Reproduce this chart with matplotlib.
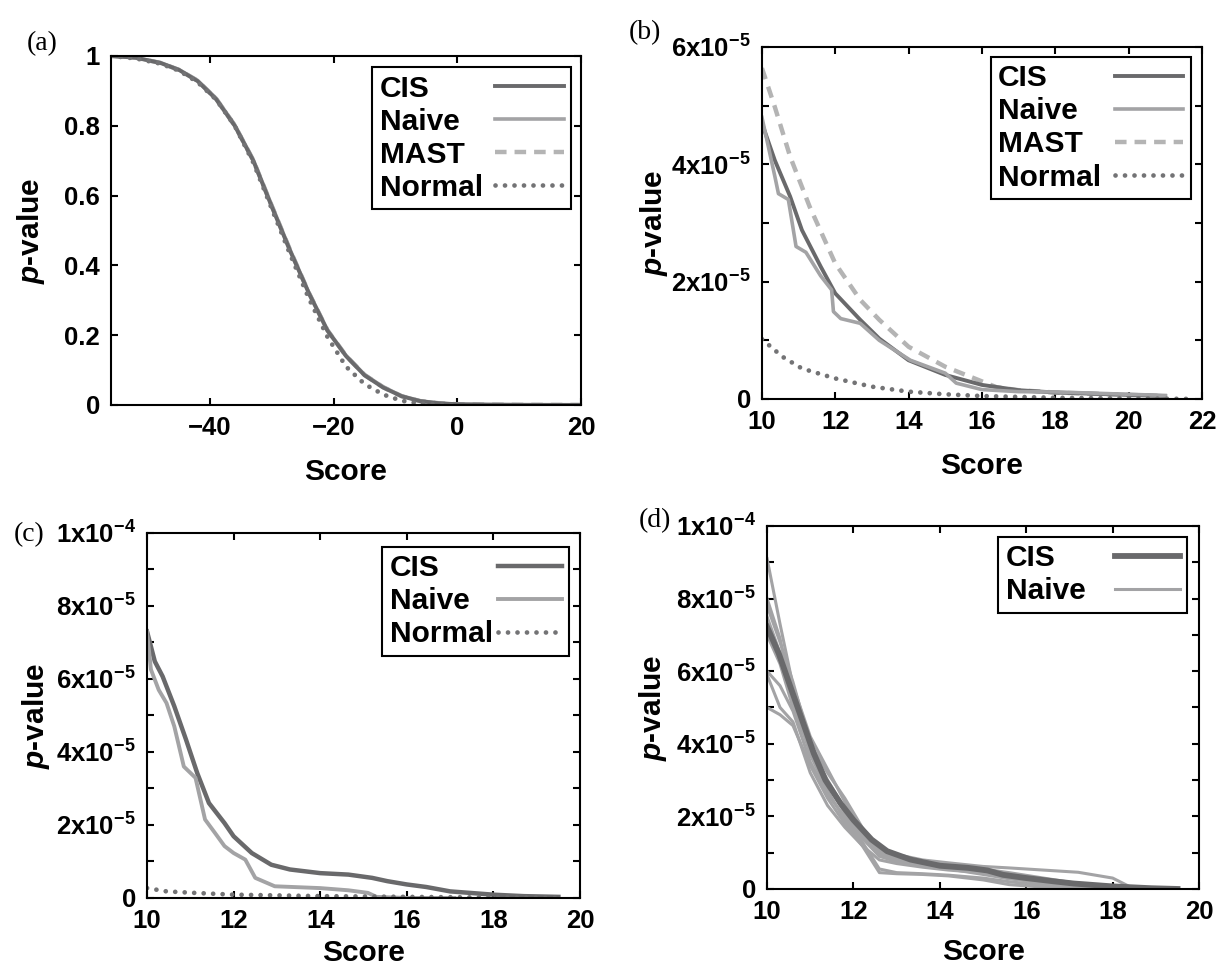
import numpy as np
import matplotlib
matplotlib.use('Agg')
import matplotlib.pyplot as plt

plt.rcParams['font.family'] = ['Liberation Sans', 'DejaVu Sans']
plt.rcParams['font.weight'] = 'bold'
plt.rcParams['axes.labelweight'] = 'bold'
plt.rcParams['mathtext.fontset'] = 'custom'
plt.rcParams['mathtext.rm'] = 'Liberation Sans:bold'
plt.rcParams['mathtext.it'] = 'Liberation Sans:italic:bold'
plt.rcParams['mathtext.bf'] = 'Liberation Sans:bold'

#Colours
c_cis, c_naive, c_mast, c_norm = '#69696b', '#a3a3a5', '#b4b4b4', '#737375'

#Panel (a): full range
score_a  = [-56, -52, -48, -45, -42, -39, -36, -33, -30, -27, -24, -21, -18,
            -15, -12, -9, -6, -3, 0, 5, 10, 15, 20]
cis_a    = [1.0, 0.995, 0.98, 0.96, 0.928, 0.876, 0.80, 0.70, 0.568, 0.44,
            0.32, 0.213, 0.14, 0.085, 0.05, 0.025, 0.011, 0.005, 0.002,
            0.001, 0.0005, 0.0003, 0.0002]
naive_a  = [1.0, 0.995, 0.981, 0.961, 0.93, 0.879, 0.803, 0.703, 0.572, 0.443,
            0.322, 0.215, 0.142, 0.087, 0.052, 0.026, 0.012, 0.005, 0.002,
            0.001, 0.0005, 0.0003, 0.0002]
mast_a   = [1.0, 0.995, 0.98, 0.96, 0.929, 0.877, 0.801, 0.701, 0.57, 0.442,
            0.321, 0.214, 0.141, 0.086, 0.051, 0.025, 0.011, 0.005, 0.002,
            0.001, 0.0005, 0.0003, 0.0002]
score_na = [-56, -52, -48, -45, -42, -39, -36, -33, -30, -27, -24, -21, -18,
            -15, -12, -9, -6, -3, 0]
normal_a = [1.0, 0.993, 0.978, 0.958, 0.925, 0.875, 0.80, 0.695, 0.562, 0.43,
            0.305, 0.195, 0.11, 0.06, 0.03, 0.012, 0.004, 0.001, 0.0003]

#Panel (b): tail, p-values in units of 1e-5
score_b  = [10, 10.35, 10.77, 11.09, 11.6, 12, 12.68, 13.2, 14, 15, 16, 17,
            18, 20, 21]
cis_b    = [4.7, 4.07, 3.45, 2.88, 2.26, 1.8, 1.35, 1.03, 0.66, 0.41, 0.24,
            0.15, 0.11, 0.07, 0.05]
score_nb = [10, 10.35, 10.45, 10.72, 10.93, 11.2, 11.4, 11.6, 11.9, 11.95,
            12.15, 12.68, 13.2, 14.05, 15, 15.3, 16, 17, 18, 20, 21]
naive_b  = [4.8, 3.8, 3.5, 3.4, 2.6, 2.5, 2.3, 2.1, 1.86, 1.49, 1.37, 1.29,
            1.0, 0.66, 0.44, 0.27, 0.16, 0.125, 0.12, 0.08, 0.06]
score_mb = [10, 10.35, 10.77, 11.3, 12, 12.68, 13.2, 14, 15, 16, 16.4, 17,
            18, 20, 21]
mast_b   = [5.64, 4.98, 4.13, 3.28, 2.31, 1.69, 1.35, 0.89, 0.55, 0.30, 0.2,
            0.15, 0.11, 0.07, 0.05]
score_pb = [10, 10.56, 11.09, 12, 13, 14, 15, 16, 18, 20, 21.8]
normal_b = [1.02, 0.72, 0.52, 0.35, 0.21, 0.125, 0.08, 0.05, 0.02, 0.01, 0.0]

#Panel (c): tail, 1e-5 units
score_c  = [10, 10.18, 10.36, 10.63, 10.9, 11.16, 11.43, 11.79, 12, 12.42,
            12.87, 13.3, 14, 14.65, 15.2, 15.55, 16, 16.45, 17, 18, 18.7, 19.5]
cis_c    = [7.3, 6.48, 6.07, 5.25, 4.34, 3.42, 2.6, 2.05, 1.69, 1.23, 0.91,
            0.78, 0.68, 0.64, 0.55, 0.46, 0.37, 0.30, 0.18, 0.09, 0.05, 0.03]
score_nc = [10, 10.09, 10.27, 10.45, 10.63, 10.85, 11.12, 11.34, 11.57, 11.79,
            12, 12.27, 12.5, 12.95, 14, 14.65, 15.1, 15.3, 16, 17.1]
naive_c  = [7.3, 6.26, 5.7, 5.34, 4.7, 3.6, 3.29, 2.15, 1.78, 1.42, 1.23,
            1.05, 0.55, 0.32, 0.27, 0.21, 0.14, 0.03, 0.0, 0.0]
score_pc = [10, 10.45, 11.07, 12, 14, 16, 18, 19.5]
normal_c = [0.27, 0.18, 0.14, 0.09, 0.05, 0.03, 0.01, 0.0]

#Panel (d): CIS vs several naive runs, 1e-5 units
score_d  = [10, 10.27, 10.54, 10.81, 11.08, 11.35, 11.7, 12, 12.42, 12.78,
            13.32, 14, 14.66, 15.1, 15.46, 16, 16.64, 17.1, 18, 18.9, 19.5]
cis_d    = [7.22, 6.49, 5.57, 4.66, 3.74, 3.0, 2.36, 1.9, 1.36, 1.04, 0.81,
            0.64, 0.58, 0.51, 0.39, 0.30, 0.21, 0.15, 0.07, 0.02, 0.0]
score_nd = [10, 10.3, 10.6, 11.0, 11.4, 11.8, 12.2, 12.6, 13.0, 13.6, 14.2,
            15.0, 15.6, 16.4, 17.2, 18.0, 18.4, 19.0]
naive_d1 = [9.1, 7.3, 5.6, 4.2, 3.3, 2.4, 1.6, 1.1, 0.95, 0.80, 0.72, 0.62,
            0.58, 0.52, 0.46, 0.30, 0.06, 0.0]
naive_d2 = [8.0, 6.9, 5.2, 3.9, 3.0, 2.2, 1.5, 1.0, 0.85, 0.70, 0.60, 0.45,
            0.30, 0.15, 0.05, 0.0, 0.0, 0.0]
naive_d3 = [7.5, 6.5, 5.3, 3.7, 2.7, 1.9, 1.3, 0.55, 0.45, 0.42, 0.38, 0.30,
            0.20, 0.10, 0.03, 0.0, 0.0, 0.0]
naive_d4 = [6.0, 5.6, 4.9, 3.5, 2.6, 2.0, 1.4, 0.9, 0.75, 0.65, 0.55, 0.40,
            0.28, 0.18, 0.08, 0.02, 0.0, 0.0]
naive_d5 = [5.9, 5.0, 4.6, 3.2, 2.3, 1.7, 1.2, 0.80, 0.70, 0.60, 0.52, 0.45,
            0.32, 0.20, 0.10, 0.03, 0.0, 0.0]
naive_d6 = [7.0, 6.2, 5.0, 3.8, 2.9, 2.1, 1.45, 0.95, 0.80, 0.68, 0.58, 0.50,
            0.40, 0.25, 0.12, 0.04, 0.01, 0.0]
naive_d7 = [5.0, 4.8, 4.5, 3.4, 2.5, 1.8, 1.2, 0.45, 0.42, 0.40, 0.36, 0.25,
            0.12, 0.05, 0.0, 0.0, 0.0, 0.0]
naive_d8 = [7.8, 6.8, 5.7, 4.0, 3.2, 2.5, 1.7, 1.05, 0.9, 0.75, 0.62, 0.55,
            0.45, 0.30, 0.15, 0.05, 0.01, 0.0]

#Tick labels
yt_a, ylab_a = [0, 0.2, 0.4, 0.6, 0.8, 1], ['0', '0.2', '0.4', '0.6', '0.8', '1']
yt_b = [0, 2e-5, 4e-5, 6e-5]
ylab_b = ['0', '2x10$^{-5}$', '4x10$^{-5}$', '6x10$^{-5}$']
yt_c = [0, 2e-5, 4e-5, 6e-5, 8e-5, 1e-4]
ylab_c = ['0', '2x10$^{-5}$', '4x10$^{-5}$', '6x10$^{-5}$', '8x10$^{-5}$',
          '1x10$^{-4}$']

fig = plt.figure(figsize=(12.16, 9.67), dpi=100)
ax_a = fig.add_axes([0.0913, 0.5812, 0.3865, 0.3609])
ax_b = fig.add_axes([0.6266, 0.5874, 0.3618, 0.3640])
ax_c = fig.add_axes([0.1209, 0.0714, 0.3561, 0.3775])
ax_d = fig.add_axes([0.6308, 0.0807, 0.3553, 0.3754])

dots = dict(ls=(0, (0.01, 2.0)), dash_capstyle='round', lw=3.4, color=c_norm)
dash = dict(ls=(0, (2.6, 1.8)), lw=3.2, color=c_mast)
e5 = 1e-5

#(a)
ax_a.plot(score_a, mast_a, label='MAST', **dash)
ax_a.plot(score_a, naive_a, color=c_naive, lw=2.6, label='Naive')
ax_a.plot(score_a, cis_a, color=c_cis, lw=2.8, label='CIS')
ax_a.plot(score_na, normal_a, label='Normal', **dots)
ax_a.set_xlim(-56, 20)
ax_a.set_ylim(0, 1)
ax_a.set_xticks([-40, -20, 0, 20])
ax_a.set_yticks(yt_a)
ax_a.set_yticklabels(ylab_a)

#(b)
ax_b.plot(score_mb, np.array(mast_b)*e5, label='MAST', **dash)
ax_b.plot(score_b, np.array(cis_b)*e5, color=c_cis, lw=2.8, label='CIS')
ax_b.plot(score_nb, np.array(naive_b)*e5, color=c_naive, lw=2.6, label='Naive')
ax_b.plot(score_pb, np.array(normal_b)*e5, label='Normal', **dots)
ax_b.set_xlim(10, 22)
ax_b.set_ylim(0, 6e-5)
ax_b.set_xticks(range(10, 23, 2))
ax_b.set_yticks(yt_b)
ax_b.set_yticklabels(ylab_b)
ax_b.set_yticks([1e-5, 3e-5, 5e-5], minor=True)

#(c)
ax_c.plot(score_c, np.array(cis_c)*e5, color=c_cis, lw=3.2, label='CIS')
ax_c.plot(score_nc, np.array(naive_c)*e5, color=c_naive, lw=2.8, label='Naive')
ax_c.plot(score_pc, np.array(normal_c)*e5, label='Normal', **dots)
ax_c.set_xlim(10, 20)
ax_c.set_ylim(0, 1e-4)
ax_c.set_xticks(range(10, 21, 2))
ax_c.set_yticks(yt_c)
ax_c.set_yticklabels(ylab_c)
ax_c.set_yticks([1e-5, 3e-5, 5e-5, 7e-5, 9e-5], minor=True)

#(d)
for i, run in enumerate([naive_d1, naive_d2, naive_d3, naive_d4, naive_d5,
                         naive_d6, naive_d7, naive_d8]):
    ax_d.plot(score_nd, np.array(run)*e5, color=c_naive, lw=2.2,
              label='Naive' if i == 0 else None)
ax_d.plot(score_d, np.array(cis_d)*e5, color=c_cis, lw=4.2, label='CIS')
ax_d.set_xlim(10, 20)
ax_d.set_ylim(0, 1e-4)
ax_d.set_xticks(range(10, 21, 2))
ax_d.set_yticks(yt_c)
ax_d.set_yticklabels(ylab_c)
ax_d.set_yticks([1e-5, 3e-5, 5e-5, 7e-5, 9e-5], minor=True)

#Common styling
ylab_x = {ax_a: -0.136, ax_b: -0.209, ax_c: -0.219, ax_d: -0.226}
xlab_pad = {ax_a: 13, ax_b: 13, ax_c: 4, ax_d: 10}
for ax in [ax_a, ax_b, ax_c, ax_d]:
    ax.tick_params(which='both', direction='in', top=True, right=True,
                   length=5, width=1.5, labelsize=18.5, pad=8)
    for s in ax.spines.values():
        s.set_linewidth(1.5)
    ax.set_xlabel('Score', fontsize=21.5, labelpad=xlab_pad[ax])
    ax.set_ylabel('$p$-value', fontsize=21.5)
    ax.yaxis.set_label_coords(ylab_x[ax], 0.5)

#Legends: text first, handle after
leg_kw = dict(loc='upper right', markerfirst=False, fancybox=False,
              framealpha=1, edgecolor='k', fontsize=21.5, borderaxespad=0,
              borderpad=0.25, labelspacing=0.17)
order4 = ['CIS', 'Naive', 'MAST', 'Normal']
legends = []
for ax, pos, order, pad, hl in [(ax_a, (0.979, 0.968), order4, 0.4, 2.3),
                                (ax_b, (0.975, 0.972), order4, 0.45, 2.3),
                                (ax_c, (0.975, 0.962), ['CIS', 'Naive', 'Normal'], 0.15, 2.15),
                                (ax_d, (0.972, 0.97), ['CIS', 'Naive'], 1.0, 2.15)]:
    h, l = ax.get_legend_handles_labels()
    hd = dict(zip(l, h))
    leg = ax.legend([hd[k] for k in order], order, bbox_to_anchor=pos,
                    handletextpad=pad, handlelength=hl, **leg_kw)
    leg.get_frame().set_linewidth(1.5)
    legends.append(leg)

#Left-align legend labels while keeping the handles in one column
fig.canvas.draw()
r = fig.canvas.get_renderer()
for leg in legends:
    ws = [t.get_window_extent(r).width for t in leg.get_texts()]
    rows = [row for col in leg._legend_handle_box.get_children()
            for row in col.get_children()]
    for row, w in zip(rows, ws):
        row.sep += (max(ws) - w) * 72 / fig.dpi

#Panel letters
for txt, x, y in [('(a)', 0.0345, 0.9545), ('(b)', 0.5304, 0.9659),
                  ('(c)', 0.0238, 0.4467), ('(d)', 0.5387, 0.4612)]:
    fig.text(x, y, txt, family='Liberation Serif', weight='normal',
             fontsize=20, ha='center', va='center')

fig.savefig('out.png', dpi=100)
